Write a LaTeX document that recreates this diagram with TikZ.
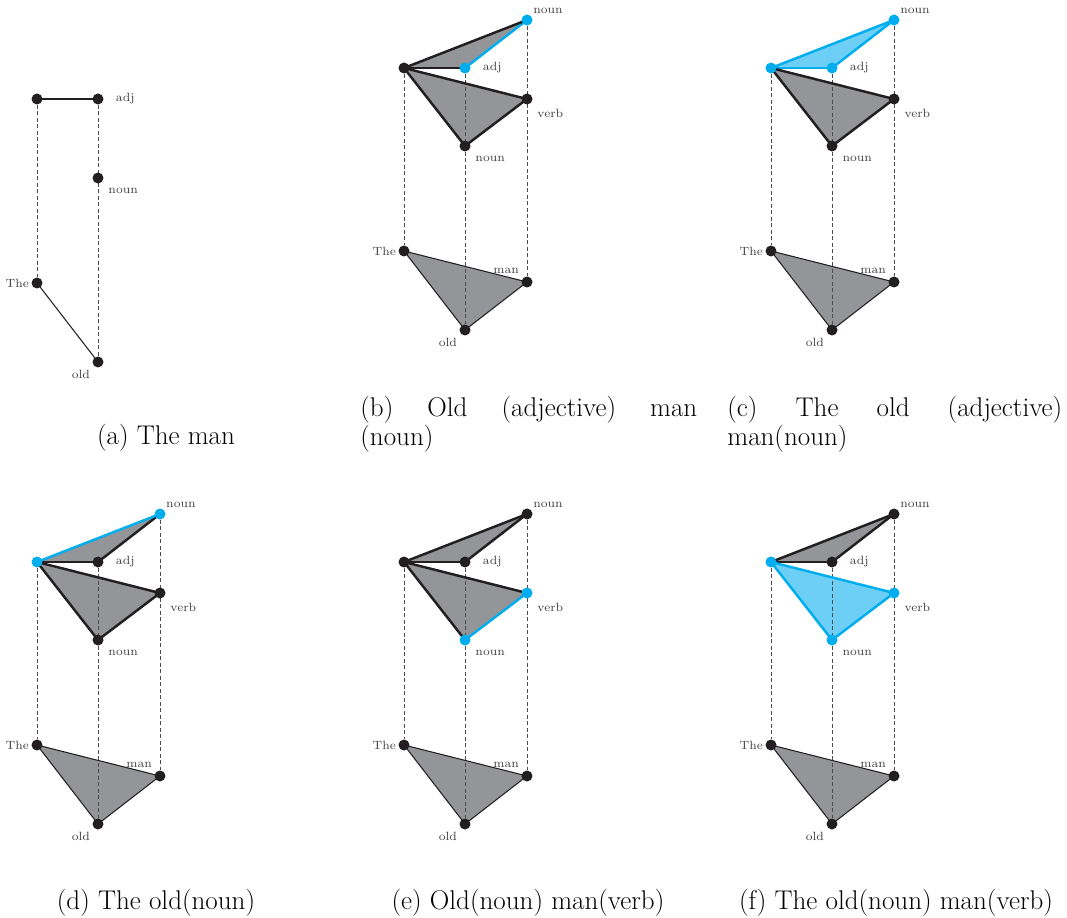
\documentclass[tikz,border=0pt]{standalone}
\usepackage{tikz}
\usetikzlibrary{backgrounds}
\definecolor{DotBlack}{HTML}{231F20}
\definecolor{HLblue}{HTML}{00AEEF}
\definecolor{HLfill}{HTML}{6DCFF6}
\definecolor{TriGrey}{HTML}{939598}

\tikzset{
  dot/.style={circle,fill=DotBlack,inner sep=0pt,minimum size=2.2mm},
  lbl/.style={font=\fontsize{6.8}{7}\selectfont,text=black!75,inner sep=1pt},
  hot/.style={fill=HLblue},
  hotline/.style={draw=HLblue},
  guide/.style={draw=black!70,line width=0.5pt,dash pattern=on 2.2pt off 1.5pt},
  arc/.style={draw=DotBlack,line width=1.4pt,line cap=round},
  thinarc/.style={draw=DotBlack,line width=0.6pt},
  capt/.style={font=\fontsize{15.4}{16.5}\selectfont,inner sep=0pt},
  dL/.style={}, dA/.style={}, dN/.style={}, dV/.style={}, dB/.style={},
  eLA/.style={}, eLN/.style={}, eAN/.style={}, eLV/.style={}, eVB/.style={}, eBL/.style={},
  ftop/.style={fill=TriGrey}, fbot/.style={fill=TriGrey},
}

% #1 name prefix, #2 shift, #3 highlights
\newcommand{\wordpanel}[3]{%
  \begin{scope}[shift={#2},#3]
    \node[dot,dL] (#1L) at (0,0) {};
    \node[dot,dA,label={[lbl,label distance=2mm]right:adj}] (#1A) at (61,0) {};
    \node[dot,dN,label={[lbl]north east:noun}] (#1N) at (123,-48) {};
    \node[dot,dV,label={[lbl,label distance=1.2mm]south east:verb}] (#1V) at (123,31) {};
    \node[dot,dB,label={[lbl,label distance=1.2mm]south east:noun}] (#1B) at (61,78) {};
    \node[dot,label={[lbl]left:The}] (#1T) at (0,183) {};
    \node[dot,label={[lbl,label distance=0.5mm]north west:man}] (#1M) at (123,214) {};
    \node[dot,label={[lbl,label distance=0.5mm]south west:old}] (#1O) at (61,262) {};
    \begin{scope}[on background layer]
      \fill[ftop] (#1L.center) -- (#1A.center) -- (#1N.center) -- cycle;
      \fill[fbot] (#1L.center) -- (#1V.center) -- (#1B.center) -- cycle;
      \filldraw[fill=TriGrey,thinarc] (#1T.center) -- (#1M.center) -- (#1O.center) -- cycle;
      \draw[guide] (#1L) -- (#1T);
      \draw[guide] (#1A) -- (#1O);
      \draw[guide] (#1N) -- (#1M);
      \draw[arc,eLA] (#1L.center) -- (#1A.center);
      \draw[arc,eLV] (#1L.center) -- (#1V.center);
      \draw[arc,eVB] (#1V.center) -- (#1B.center);
      \draw[arc,eBL] (#1B.center) -- (#1L.center);
      \draw[arc,eAN] (#1A.center) -- (#1N.center);
      \draw[arc,eLN] (#1L.center) -- (#1N.center);
    \end{scope}
  \end{scope}}

\begin{document}
\begin{tikzpicture}[x=0.02cm,y=-0.02cm]
  \useasboundingbox (0,0) rectangle (1067,918);

  % (a)
  \node[dot] (aL) at (37,99) {};
  \node[dot,label={[lbl,label distance=2mm]right:adj}] (aA) at (98,99) {};
  \node[dot,label={[lbl,label distance=1.2mm]south east:noun}] (aN) at (98,178) {};
  \node[dot,label={[lbl]left:The}] (aT) at (37,283) {};
  \node[dot,label={[lbl,label distance=0.5mm]south west:old}] (aO) at (98,362) {};
  \begin{scope}[on background layer]
    \draw[guide] (aL) -- (aT);
    \draw[guide] (aA) -- (aO);
    \draw[arc,line width=1.1pt] (aL.center) -- (aA.center);
    \draw[thinarc] (aT.center) -- (aO.center);
  \end{scope}

  \wordpanel{b}{(404,68)}{dA/.style=hot,dN/.style=hot,eAN/.style=hotline}
  \wordpanel{c}{(771,68)}{dL/.style=hot,dA/.style=hot,dN/.style=hot,
    eLA/.style=hotline,eLN/.style=hotline,eAN/.style=hotline,ftop/.style={fill=HLfill}}
  \wordpanel{d}{(37,562)}{dL/.style=hot,dN/.style=hot,eLN/.style=hotline}
  \wordpanel{e}{(404,562)}{dV/.style=hot,dB/.style=hot,eVB/.style=hotline}
  \wordpanel{f}{(771,562)}{dL/.style=hot,dV/.style=hot,dB/.style=hot,
    eLV/.style=hotline,eVB/.style=hotline,eBL/.style=hotline,fbot/.style={fill=HLfill}}

  \node[capt] (capa) at (166,438) {(a) The man};
  \node[capt,text width=6.74cm,align=justify,anchor=north west] (capb) at (360,396)
    {(b) Old (adjective) man\linebreak (noun)};
  \node[capt,text width=6.7cm,align=justify,anchor=north west] (capc) at (727,396)
    {(c) The old (adjective) man(noun)};
  \node[capt] (capd) at (156,903) {(d) The old(noun)};
  \node[capt] (cape) at (528,903) {(e) Old(noun) man(verb)};
  \node[capt] (capf) at (896,903) {(f) The old(noun) man(verb)};
\end{tikzpicture}
\end{document}
